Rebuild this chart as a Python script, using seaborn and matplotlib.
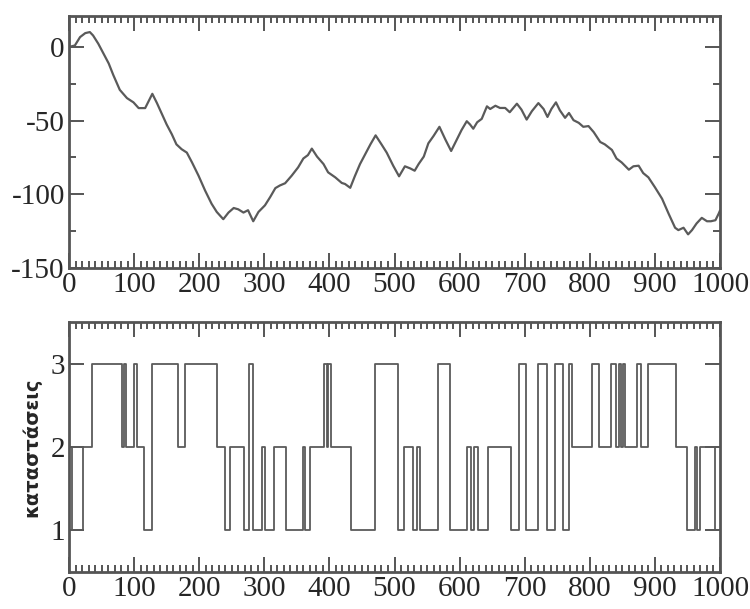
import matplotlib
matplotlib.use("Agg")
import matplotlib.pyplot as plt
from matplotlib.ticker import MultipleLocator, FuncFormatter
import seaborn as sns
import pandas as pd

# ---- top panel: trajectory ----
walk_x = [0, 9, 17, 25, 32, 37, 45, 53, 61, 68, 78, 89, 99, 107, 117, 122, 128, 135, 142,
          150, 158, 165, 173, 181, 189, 199, 209, 219, 227, 237, 245, 253, 260, 268, 275,
          283, 291, 301, 309, 317, 324, 332, 342, 352, 360, 367, 373, 381, 391, 398, 409,
          419, 424, 432, 439, 447, 455, 463, 471, 480, 488, 498, 507, 516, 524, 531, 537,
          545, 552, 560, 569, 578, 587, 596, 603, 611, 616, 621, 627, 634, 642, 647, 655,
          662, 670, 677, 688, 695, 703, 711, 721, 729, 735, 741, 748, 754, 762, 768, 775,
          783, 790, 798, 806, 816, 823, 834, 841, 849, 860, 867, 875, 882, 890, 900, 911,
          921, 931, 936, 944, 951, 957, 964, 972, 980, 986, 993, 998, 1000]
walk_y = [0, 1, 6.7, 9.4, 10.1, 7.8, 2.2, -4.5, -11.2, -19, -29.1, -34.7, -37.6, -41.5,
          -41.5, -37.1, -31.8, -38, -44.8, -52.6, -59.3, -66.1, -69.4, -71.7, -78.4, -87.4,
          -97.4, -106.4, -112, -116.9, -112.4, -109.3, -110.2, -112.4, -110.8, -118.3, -112,
          -107.5, -101.9, -95.8, -94, -92.5, -87.4, -81.7, -75.7, -73.4, -69, -74.4, -79.5,
          -85.1, -88.5, -92.3, -93, -95.6, -87.8, -79.5, -72.8, -66.1, -60, -66.1, -71.7,
          -80.6, -87.8, -81, -82.4, -84, -79.5, -74.4, -65.4, -60.4, -54.2, -62.7, -70.6,
          -62.7, -56.4, -50.4, -52.6, -55.5, -51.1, -48.8, -40.3, -42.1, -39.9, -41.4,
          -41.4, -44.3, -38.5, -42.5, -49.3, -43.6, -38.1, -42.1, -47.5, -42.1, -37.6, -43,
          -48.1, -44.8, -49.7, -51.5, -54.2, -53.7, -57.8, -64.5, -66.1, -69.9, -75.7,
          -78.4, -83.3, -81, -80.6, -85.6, -88.5, -95.2, -103, -113.1, -122.7, -124.3,
          -122.7, -127.2, -124.3, -119.8, -116, -118.3, -118.3, -117.6, -113.1, -111]

# ---- bottom panel: states (value holds from each change time) ----
state_t = [0, 5, 21, 36, 82, 85, 87, 100, 104, 115, 128, 168, 178, 227, 240, 247, 269,
           276, 282, 296, 301, 315, 334, 360, 362, 370, 392, 396, 398, 403, 433, 470, 506,
           515, 529, 534, 539, 567, 585, 612, 617, 622, 629, 644, 679, 691, 702, 720, 734,
           746, 759, 768, 773, 803, 814, 832, 841, 845, 848, 851, 854, 872, 879, 890, 932,
           950, 962, 964, 969, 992, 1000]
state_v = [2, 1, 2, 3, 2, 3, 2, 3, 2, 1, 3, 2, 3, 2, 1, 2, 1, 3, 1, 2, 1, 2, 1, 2, 1, 2, 3,
           2, 3, 2, 1, 3, 1, 2, 1, 2, 1, 3, 1, 2, 1, 2, 1, 2, 1, 3, 1, 3, 1, 3, 1, 3, 2, 3, 2,
           3, 2, 3, 2, 3, 2, 3, 2, 3, 2, 1, 2, 1, 2, 1, 1]

x_ticks = [0, 100, 200, 300, 400, 500, 600, 700, 800, 900, 1000]
top_yticks = [0, -50, -100, -150]
bot_yticks = [1, 2, 3]
ylabel_bottom = "καταστάσεις"

sns.set_style("white")
plt.rcParams["axes.unicode_minus"] = False

GRAY = "#555555"
fig = plt.figure(figsize=(7.5, 6.09), dpi=100)
ax1 = fig.add_axes([0.092, 0.56, 0.868, 0.4137])
ax2 = fig.add_axes([0.092, 0.0608, 0.868, 0.4105])

df_walk = pd.DataFrame({"t": walk_x, "v": walk_y})
sns.lineplot(data=df_walk, x="t", y="v", ax=ax1, color="#5a5a5a", linewidth=1.6,
             estimator=None, sort=False)

df_state = pd.DataFrame({"t": state_t, "s": state_v})
sns.lineplot(data=df_state, x="t", y="s", ax=ax2, color="#5a5a5a", linewidth=1.3,
             estimator=None, sort=False, drawstyle="steps-post")

tick_font = {"family": "Liberation Serif", "size": 21}

for ax in (ax1, ax2):
    ax.set_xlim(0, 1000)
    ax.set_xticks(x_ticks)
    ax.xaxis.set_minor_locator(MultipleLocator(10))
    ax.tick_params(which="both", direction="in", top=True, right=True,
                   bottom=True, left=True, color=GRAY, width=1.4)
    ax.tick_params(which="major", length=11, pad=3)
    ax.tick_params(which="minor", length=5)
    for sp in ax.spines.values():
        sp.set_color(GRAY)
        sp.set_linewidth(2)
    ax.set_xlabel("")
    ax.set_ylabel("")
    for lab in ax.get_xticklabels() + ax.get_yticklabels():
        lab.set_fontfamily(tick_font["family"])
        lab.set_fontsize(tick_font["size"])

ax1.set_ylim(-150, 21)
ax1.set_yticks(top_yticks)
ax1.yaxis.set_minor_locator(MultipleLocator(25))
ax1.yaxis.set_major_formatter(FuncFormatter(lambda v, p: f"{int(v)}"))

ax2.set_ylim(0.5, 3.5)
ax2.set_yticks(bot_yticks)
ax2.yaxis.set_minor_locator(matplotlib.ticker.NullLocator())
ax2.set_ylabel(ylabel_bottom, fontfamily="DejaVu Sans", fontweight="bold", fontsize=14)
ax2.yaxis.set_label_coords(-0.043, 0.5)

for ax in (ax1, ax2):
    for lab in ax.get_xticklabels() + ax.get_yticklabels():
        lab.set_fontfamily("Liberation Serif")
        lab.set_fontsize(21)

fig.savefig("out.png", dpi=100)
